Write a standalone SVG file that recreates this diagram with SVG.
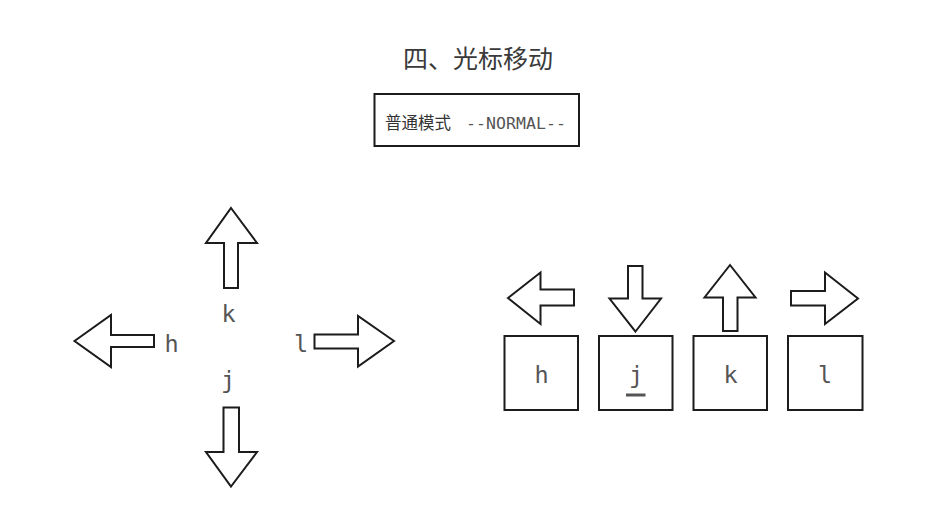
<svg xmlns="http://www.w3.org/2000/svg" width="939" height="527" viewBox="0 0 939 527">
  <style>
    .arrow { fill: #fff; stroke: #1a1a1a; stroke-width: 2; stroke-linejoin: miter; }
    .key { fill: #fff; stroke: #1a1a1a; stroke-width: 2; }
    .mono { font-family: "DejaVu Sans Mono", "Liberation Mono", monospace; fill: #555; }
    .title { font-family: "Noto Sans CJK SC", "Noto Sans", sans-serif; font-size: 25px; font-weight: 400; fill: #3a3a3a; }
    .mode { font-family: "Noto Sans CJK SC", "Noto Sans", sans-serif; font-size: 16.5px; fill: #333; }
  </style>
  <defs>
    <filter id="rough" x="-5%" y="-5%" width="110%" height="110%">
      <feTurbulence type="fractalNoise" baseFrequency="0.9" numOctaves="2" seed="3" result="n"/>
      <feDisplacementMap in="SourceGraphic" in2="n" scale="1.2"/>
    </filter>
  </defs>
  <rect width="939" height="527" fill="#fff"/>

  <!-- heading -->
  <g id="title">
    <text class="title" x="478" y="67.5" text-anchor="middle">四、光标移动</text>
  </g>

  <!-- mode badge -->
  <g id="mode-badge">
    <rect class="key" x="374.5" y="94" width="204.5" height="52" filter="url(#rough)"/>
    <text class="mode" x="385" y="129">普通模式</text>
    <text class="mono" x="466" y="129" font-size="16.5" fill="#333" textLength="100">--NORMAL--</text>
  </g>

  <!-- cross layout: direction arrows around the letters -->
  <g id="connectors" filter="url(#rough)">
    <!-- up (k) -->
    <path class="arrow" d="M231,208 L257,243 L238,243 L238,288 L224,288 L224,243 L206,243 Z"/>
    <!-- left (h) -->
    <path class="arrow" d="M74.5,341 L111,315 L111,335 L154,335 L154,347 L111,347 L111,367 Z"/>
    <!-- right (l) -->
    <path class="arrow" d="M394,341 L358,316 L358,334.5 L314.5,334.5 L314.5,348.5 L358,348.5 L358,366.5 Z"/>
    <!-- down (j) -->
    <path class="arrow" d="M231,486.5 L257,452 L239,452 L239,407.5 L223.5,407.5 L223.5,452 L206,452 Z"/>

    <!-- key row arrows -->
    <!-- h: left -->
    <path class="arrow" d="M508,298 L540.5,272.5 L540.5,289.5 L574,289.5 L574,305.5 L540.5,305.5 L540.5,324 Z"/>
    <!-- j: down -->
    <path class="arrow" d="M635.5,331.5 L661,298.5 L642.5,298.5 L642.5,266 L628,266 L628,298.5 L609.5,298.5 Z"/>
    <!-- k: up -->
    <path class="arrow" d="M730,265 L755.5,297.5 L737.5,297.5 L737.5,331 L723,331 L723,297.5 L704.5,297.5 Z"/>
    <!-- l: right -->
    <path class="arrow" d="M858,298.5 L825,272.5 L825,291 L791,291 L791,305.5 L825,305.5 L825,324 Z"/>
  </g>

  <g id="label-k"><text class="mono" x="228.5" y="322" font-size="23.5" text-anchor="middle">k</text></g>
  <g id="label-h"><text class="mono" x="171.5" y="351.5" font-size="23.5" text-anchor="middle">h</text></g>
  <g id="label-l"><text class="mono" x="301" y="351.5" font-size="23.5" text-anchor="middle">l</text></g>
  <g id="label-j"><text class="mono" x="228" y="388" font-size="23.5" text-anchor="middle">j</text></g>

  <!-- key caps -->
  <g id="key-h">
    <rect class="key" x="504.5" y="336" width="73.5" height="74" filter="url(#rough)"/>
    <text class="mono" x="541.5" y="383" font-size="23.5" text-anchor="middle">h</text>
  </g>
  <g id="key-j">
    <rect class="key" x="599" y="336" width="73.5" height="74" filter="url(#rough)"/>
    <text class="mono" x="636" y="383" font-size="23.5" text-anchor="middle">j</text>
    <rect x="626" y="393.5" width="19.5" height="3" fill="#555"/>
  </g>
  <g id="key-k">
    <rect class="key" x="693.5" y="336" width="73.5" height="74" filter="url(#rough)"/>
    <text class="mono" x="730.5" y="383" font-size="23.5" text-anchor="middle">k</text>
  </g>
  <g id="key-l">
    <rect class="key" x="788" y="336" width="74.5" height="74" filter="url(#rough)"/>
    <text class="mono" x="825" y="383" font-size="23.5" text-anchor="middle">l</text>
  </g>
</svg>
